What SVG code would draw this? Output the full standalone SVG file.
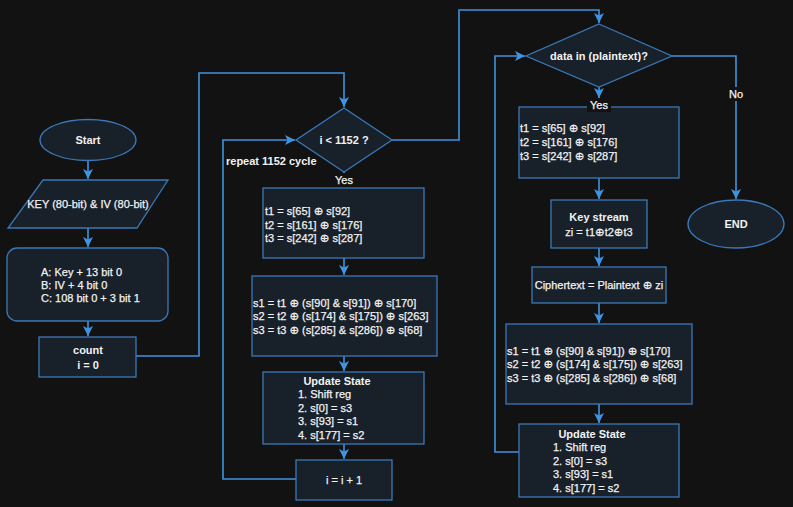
<svg xmlns="http://www.w3.org/2000/svg" width="793" height="507" viewBox="0 0 793 507">
<style>
.bg{fill:#121212}
.n{fill:#18202a;stroke:#3a78b8;stroke-width:1.3}
.c{fill:none;stroke:#3f93e0;stroke-width:1.6}
text{font-family:"Liberation Sans",Arial,sans-serif;fill:#f2f2f2;font-size:11px;stroke:#f2f2f2;stroke-width:0.25}
.b{font-weight:bold;stroke-width:0}
.m{text-anchor:middle}
.lb{fill:#121212}
.x{font-family:"DejaVu Sans",sans-serif;font-size:11.5px}
</style>
<defs>
<marker id="ah" markerUnits="userSpaceOnUse" markerWidth="11" markerHeight="10" refX="10" refY="5" orient="auto">
<path d="M0,0 L10,5 L0,10 L2.5,5 Z" fill="#3f93e0"/>
</marker>
</defs>
<rect class="bg" x="0" y="0" width="793" height="507"/>

<g id="connectors">
<path class="c" d="M88,161 V179" marker-end="url(#ah)"/>
<path class="c" d="M88,228 V247" marker-end="url(#ah)"/>
<path class="c" d="M88,321 V336" marker-end="url(#ah)"/>
<path class="c" d="M136,356 H199 V73 H344 V107" marker-end="url(#ah)"/>
<path class="c" d="M392,140 H459 V10 H599 V23" marker-end="url(#ah)"/>
<path class="c" d="M344,172 V187" marker-end="url(#ah)"/>
<path class="c" d="M344,258 V275" marker-end="url(#ah)"/>
<path class="c" d="M344,356 V371" marker-end="url(#ah)"/>
<path class="c" d="M344,444 V459" marker-end="url(#ah)"/>
<path class="c" d="M296,479 H223 V140 H295" marker-end="url(#ah)"/>
<path class="c" d="M672,56 H736 V199" marker-end="url(#ah)"/>
<path class="c" d="M599,87 V98" marker-end="url(#ah)"/>
<path class="c" d="M599,178 V199" marker-end="url(#ah)"/>
<path class="c" d="M599,248 V266" marker-end="url(#ah)"/>
<path class="c" d="M599,303 V323" marker-end="url(#ah)"/>
<path class="c" d="M599,404 V423" marker-end="url(#ah)"/>
<path class="c" d="M519,452 H495 V56 H525" marker-end="url(#ah)"/>
<rect class="lb" x="331" y="173" width="26" height="14"/>
<text class="m" x="344" y="184">Yes</text>
<text class="b" x="226" y="165" font-size="9.5">repeat 1152 cycle</text>
<rect class="lb" x="725" y="87" width="22" height="14"/>
<text class="m" x="736" y="98">No</text>
</g>

<g id="start">
<ellipse class="n" cx="88" cy="140" rx="48" ry="20.5"/>
<text class="b m" x="88" y="144">Start</text>
</g>
<g id="key-iv">
<polygon class="n" points="43,180 168,180 137,228 8,228"/>
<text class="m" x="88" y="208" font-size="10" stroke-width="0.1">KEY (80-bit) &amp; IV (80-bit)</text>
</g>
<g id="init">
<rect class="n" x="7" y="248" width="161" height="73" rx="10"/>
<text x="41" y="276">A: Key + 13 bit 0</text>
<text x="41" y="289">B: IV + 4 bit 0</text>
<text x="41" y="302">C: 108 bit 0 + 3 bit 1</text>
</g>
<g id="count">
<rect class="n" x="39" y="337" width="97" height="40"/>
<text class="b m" x="88" y="354">count</text>
<text class="b m" x="88" y="369">i = 0</text>
</g>
<g id="cond1">
<polygon class="n" points="344,108 392,140 344,172 296,140"/>
<text class="b m" x="344" y="144">i &lt; 1152 ?</text>
</g>
<g id="t-box1">
<rect class="n" x="263" y="188" width="161" height="70"/>
<text x="265" y="215">t1 = s[65] <tspan class="x">⊕</tspan> s[92]</text>
<text x="265" y="229">t2 = s[161] <tspan class="x">⊕</tspan> s[176]</text>
<text x="265" y="242">t3 = s[242] <tspan class="x">⊕</tspan> s[287]</text>
</g>
<g id="s-box1">
<rect class="n" x="252" y="276" width="185" height="80"/>
<text x="253" y="307">s1 = t1 <tspan class="x">⊕</tspan> (s[90] &amp; s[91]) <tspan class="x">⊕</tspan> s[170]</text>
<text x="253" y="320">s2 = t2 <tspan class="x">⊕</tspan> (s[174] &amp; s[175]) <tspan class="x">⊕</tspan> s[263]</text>
<text x="253" y="334">s3 = t3 <tspan class="x">⊕</tspan> (s[285] &amp; s[286]) <tspan class="x">⊕</tspan> s[68]</text>
</g>
<g id="update1">
<rect class="n" x="263" y="372" width="161" height="72"/>
<text class="b m" x="337" y="385">Update State</text>
<text x="298" y="398">1. Shift reg</text>
<text x="298" y="412">2. s[0] = s3</text>
<text x="298" y="425">3. s[93] = s1</text>
<text x="298" y="439">4. s[177] = s2</text>
</g>
<g id="incr">
<rect class="n" x="296" y="460" width="96" height="40"/>
<text class="m" x="344" y="484">i = i + 1</text>
</g>
<g id="cond2">
<polygon class="n" points="599,24 672,56 599,87 526,56"/>
<text class="b m" x="599" y="60">data in (plaintext)?</text>
</g>
<g id="end">
<ellipse class="n" cx="736" cy="224" rx="48" ry="24"/>
<text class="b m" x="736" y="228">END</text>
</g>
<g id="t-box2">
<rect class="n" x="519" y="107" width="160" height="71"/>
<text x="520" y="132">t1 = s[65] <tspan class="x">⊕</tspan> s[92]</text>
<text x="520" y="146">t2 = s[161] <tspan class="x">⊕</tspan> s[176]</text>
<text x="520" y="160">t3 = s[242] <tspan class="x">⊕</tspan> s[287]</text>
</g>
<g id="yes2">
<rect class="lb" x="587" y="99" width="24" height="13"/>
<text class="m" x="599" y="109">Yes</text>
</g>
<g id="keystream">
<rect class="n" x="551" y="200" width="96" height="48"/>
<text class="b m" x="599" y="221">Key stream</text>
<text class="m" x="599" y="236">zi = t1<tspan class="x">⊕</tspan>t2<tspan class="x">⊕</tspan>t3</text>
</g>
<g id="cipher">
<rect class="n" x="532" y="267" width="134" height="36"/>
<text class="m" x="599" y="289">Ciphertext = Plaintext <tspan class="x">⊕</tspan> zi</text>
</g>
<g id="s-box2">
<rect class="n" x="506" y="324" width="186" height="80"/>
<text x="507" y="355">s1 = t1 <tspan class="x">⊕</tspan> (s[90] &amp; s[91]) <tspan class="x">⊕</tspan> s[170]</text>
<text x="507" y="368">s2 = t2 <tspan class="x">⊕</tspan> (s[174] &amp; s[175]) <tspan class="x">⊕</tspan> s[263]</text>
<text x="507" y="382">s3 = t3 <tspan class="x">⊕</tspan> (s[285] &amp; s[286]) <tspan class="x">⊕</tspan> s[68]</text>
</g>
<g id="update2">
<rect class="n" x="519" y="424" width="160" height="73"/>
<text class="b m" x="592" y="438">Update State</text>
<text x="553" y="451">1. Shift reg</text>
<text x="553" y="465">2. s[0] = s3</text>
<text x="553" y="478">3. s[93] = s1</text>
<text x="553" y="492">4. s[177] = s2</text>
</g>
</svg>
